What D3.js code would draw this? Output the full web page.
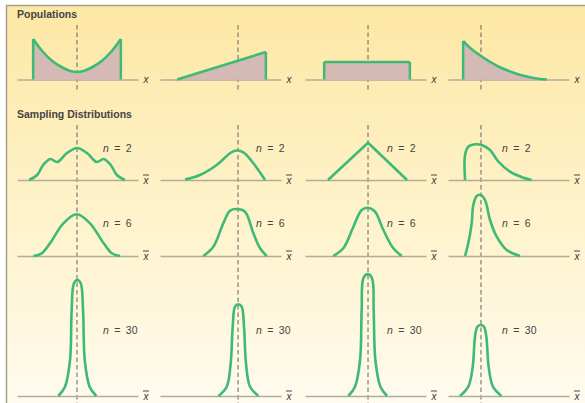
<!DOCTYPE html>
<html>
<head>
<meta charset="utf-8">
<script src="https://cdn.jsdelivr.net/npm/d3@7"></script>
<style>
	html, body { margin: 0; padding: 0; background: #fff; }
	svg { display: block; font-family: "Liberation Sans", Arial, sans-serif; }
</style>
</head>
<body>
<div id="chart"></div>
<script>
// Shapes of four populations and the sampling distributions of the mean
// for n = 2, 6 and 30. Every curve is a list of (x, height) points read
// off the picture, in the units of the panel scales below.
const columns = ['U-shaped', 'Triangular', 'Uniform', 'Exponential'];
const rowTitles = ['Populations', 'Sampling Distributions'];
const sampleSizes = [2, 6, 30];
const populationMeans = [5.95, 7.74, 6.25, 3.27];

// populations
const popX = [
	[1.6, 2.5, 3.5, 4.5, 5.3, 5.95, 6.6, 7.4, 8.4, 9.4, 10.3],
	[1.7, 10.5],
	[1.9, 10.4],
	[1.5, 2.2, 3.27, 4.2, 5.2, 6.3, 7.4, 8.6, 9.8]
];
const popY = [
	[4.05, 2.85, 1.85, 1.2, 0.85, 0.75, 0.85, 1.2, 1.85, 2.85, 4.05],
	[0, 2.75],
	[1.75, 1.75],
	[3.85, 3.15, 2.35, 1.75, 1.2, 0.75, 0.4, 0.13, 0]
];

// n = 2
const n2X = [
	[1.2, 2.0, 2.6, 3.3, 4.0, 4.9, 5.95, 7.0, 7.9, 8.6, 9.3, 9.9, 10.7],
	[2.48, 3.97, 5.62, 6.94, 7.44, 8.27, 9.26, 10.42],
	[2.28, 6.25, 10.12],
	[1.69, 1.69, 2.01, 2.68, 3.34, 4.17, 5.0, 6.15, 7.47, 8.3]
];
const n2Y = [
	[0, 0.5, 1.5, 2.1, 1.8, 2.65, 3.2, 2.65, 1.8, 2.1, 1.5, 0.5, 0],
	[0.05, 0.5, 1.5, 2.67, 2.93, 2.77, 1.67, 0],
	[0, 3.72, 0],
	[0, 2.5, 3.33, 3.57, 3.5, 3.0, 1.83, 0.83, 0.23, 0]
];

// n = 6
const n6X = [
	[1.62, 2.45, 3.27, 4.6, 5.92, 7.24, 8.6, 9.4, 10.22],
	[4.3, 5.29, 6.28, 6.94, 7.61, 8.43, 9.26, 9.92, 10.58],
	[2.81, 3.8, 4.8, 5.62, 6.22, 6.94, 7.77, 8.76, 9.59],
	[1.69, 2.01, 2.35, 2.51, 2.85, 3.24, 3.67, 4.17, 4.83, 5.82, 7.14]
];
const n6Y = [
	[0, 0.27, 1.27, 3.27, 4.17, 3.27, 1.27, 0.27, 0],
	[0, 0.93, 3.27, 4.53, 4.7, 4.43, 2.27, 0.77, 0],
	[0, 0.77, 2.93, 4.6, 4.83, 4.43, 2.6, 0.77, 0],
	[0, 1.27, 3.27, 5.1, 6.0, 6.1, 5.6, 3.6, 1.93, 0.6, 0]
];

// n = 30
const n30X = [
	[4.1, 4.76, 5.26, 5.42, 5.65, 5.99, 6.32, 6.55, 6.72, 7.2, 7.87],
	[5.79, 6.62, 7.01, 7.21, 7.44, 7.77, 8.1, 8.33, 8.53, 8.93, 9.76],
	[4.3, 4.96, 5.46, 5.62, 5.79, 6.22, 6.65, 6.81, 6.98, 7.48, 8.14],
	[1.19, 2.01, 2.45, 2.68, 2.91, 3.24, 3.57, 3.8, 4.03, 4.46, 5.29]
];
const n30Y = [
	[0, 0.93, 3.6, 8.6, 11.27, 11.6, 11.27, 8.6, 3.6, 0.93, 0],
	[0, 0.93, 3.27, 6.93, 8.93, 9.17, 8.93, 6.93, 3.27, 0.93, 0],
	[0, 0.93, 3.6, 8.6, 11.77, 12.2, 11.77, 8.6, 3.6, 0.93, 0],
	[0, 0.93, 2.93, 5.93, 6.93, 7.1, 6.93, 5.93, 2.93, 0.93, 0]
];

// layout
const W = 585, H = 403;
const colLeft = [17, 160, 305, 448];
const axisWidth = 121;
const baselines = [79.5, 180, 256, 396];
const labelOffset = [86, 96, 82, 54];
const labelY = [0, 152, 227, 334];
const green = '#3dba76';

const svg = d3.select('#chart').append('svg')
	.attr('width', W)
	.attr('height', H);

// Background panel with a yellow to cream gradient
const grad = svg.append('defs').append('linearGradient')
	.attr('id', 'bg').attr('x1', 0).attr('y1', 0).attr('x2', 0).attr('y2', 1);
grad.append('stop').attr('offset', '0%').attr('stop-color', '#fde7a4');
grad.append('stop').attr('offset', '55%').attr('stop-color', '#fef3cc');
grad.append('stop').attr('offset', '100%').attr('stop-color', '#fffbee');

svg.append('rect')
	.attr('x', 6).attr('y', 5)
	.attr('width', W - 6).attr('height', H - 5)
	.attr('fill', 'url(#bg)');
svg.append('path')
	.attr('d', `M6.5,${H} V5.5 H${W}`)
	.attr('fill', 'none')
	.attr('stroke', '#a8a08c')
	.attr('stroke-width', 1.5);

// Section titles
svg.selectAll('.title')
	.data(rowTitles)
	.enter()
	.append('text')
	.attr('class', 'title')
	.attr('x', 17)
	.attr('y', (d, i) => i === 0 ? 18 : 117.5)
	.attr('font-size', 10.5)
	.attr('font-weight', 'bold')
	.attr('fill', '#444')
	.text(d => d);

const rows = [
	{ xs: popX, ys: popY, n: null },
	{ xs: n2X, ys: n2Y, n: sampleSizes[0] },
	{ xs: n6X, ys: n6Y, n: sampleSizes[1] },
	{ xs: n30X, ys: n30Y, n: sampleSizes[2] }
];

columns.forEach((name, c) => {
	const x = d3.scaleLinear().domain([0, 12]).range([colLeft[c], colLeft[c] + axisWidth]);

	// dashed mean lines, one short for populations and one long for samples
	[[25, 90], [125, H]].forEach(([y1, y2]) => {
		svg.append('line')
			.attr('x1', x(populationMeans[c])).attr('x2', x(populationMeans[c]))
			.attr('y1', y1).attr('y2', y2)
			.attr('stroke', '#707070')
			.attr('stroke-width', 1.1)
			.attr('stroke-dasharray', '4.5,3');
	});

	rows.forEach((row, r) => {
		const y = d3.scaleLinear().domain([0, 10]).range([baselines[r], baselines[r] - 100]);
		const g = svg.append('g');

		// x-axis without ticks
		g.append('g')
			.attr('transform', `translate(0,${baselines[r]})`)
			.call(d3.axisBottom(x).tickValues([]).tickSizeOuter(0))
			.select('.domain')
			.attr('stroke', '#b2ac9c')
			.attr('stroke-width', 1.6);

		// axis label x or x-bar
		const lx = colLeft[c] + axisWidth + 8;
		g.append('text')
			.attr('x', lx)
			.attr('y', baselines[r] + 3.5)
			.attr('text-anchor', 'middle')
			.attr('font-size', 10)
			.attr('font-style', 'italic')
			.attr('fill', '#333')
			.text('x');
		if (row.n !== null) {
			g.append('line')
				.attr('x1', lx - 3).attr('x2', lx + 3)
				.attr('y1', baselines[r] - 5).attr('y2', baselines[r] - 5)
				.attr('stroke', '#333').attr('stroke-width', 0.9);
		}

		const pts = row.xs[c].map((v, i) => [v, row.ys[c][i]]);
		const straight = (r === 1 && c === 2) || pts.length === 2;
		const curve = straight ? d3.curveLinear : d3.curveCatmullRom.alpha(0.5);

		if (r === 0) {
			// population: shaded area and its vertical edges
			g.append('path')
				.datum(pts)
				.attr('d', d3.area().x(d => x(d[0])).y0(y(0)).y1(d => y(d[1])).curve(curve))
				.attr('fill', '#d5b9b4');
			const first = pts[0], last = pts[pts.length - 1];
			[first, last].filter(d => d[1] > 0).forEach(d => {
				g.append('path')
					.datum([[d[0], 0], d])
					.attr('d', d3.line().x(p => x(p[0])).y(p => y(p[1])))
					.attr('stroke', green)
					.attr('stroke-width', 2.5)
					.attr('fill', 'none');
			});
		}

		g.append('path')
			.datum(pts)
			.attr('d', d3.line().x(d => x(d[0])).y(d => y(d[1])).curve(curve))
			.attr('fill', 'none')
			.attr('stroke', green)
			.attr('stroke-width', 2.6)
			.attr('stroke-linejoin', 'round')
			.attr('stroke-linecap', 'butt');

		// sample size label
		if (row.n !== null) {
			const t = g.append('text')
				.attr('x', colLeft[c] + labelOffset[c])
				.attr('y', labelY[r])
				.attr('font-size', 10.5)
				.attr('word-spacing', 2.5)
				.attr('fill', '#444');
			t.append('tspan').attr('font-style', 'italic').text('n');
			t.append('tspan').text(' = ' + row.n);
		}
	});
});
</script>
</body>
</html>
